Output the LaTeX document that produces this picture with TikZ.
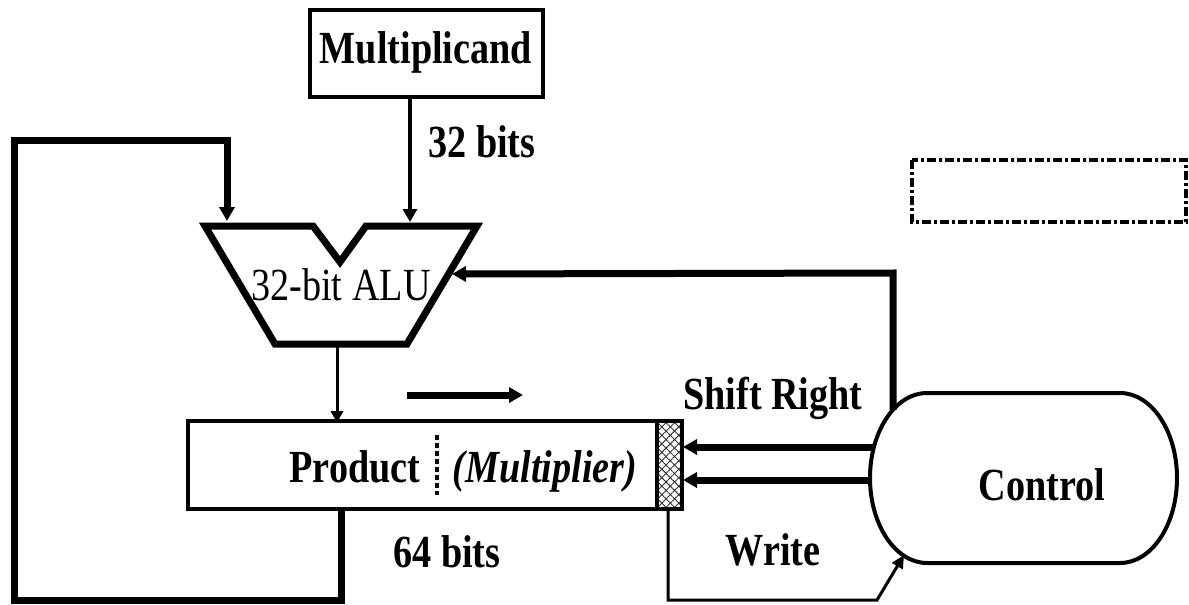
\documentclass[tikz,border=0pt]{standalone}
\usepackage{fontspec}
\setmainfont[FakeStretch=0.83]{Liberation Serif}
\usetikzlibrary{arrows.meta,patterns.meta}
\begin{document}
\begin{tikzpicture}[x=1pt,y=-1pt,
  lbl/.style={font=\fontsize{46}{50}\selectfont\bfseries, inner sep=0pt, anchor=base},
  lblr/.style={font=\fontsize{46}{50}\selectfont, inner sep=0pt, anchor=base},
  bigtip/.style={-{Triangle[length=14pt,width=15pt]}},
  midtip/.style={-{Triangle[length=13pt,width=14pt]}},
  thick7/.style={line width=7pt},
  thick4/.style={line width=4pt},
  thin3/.style={line width=3pt},
  ]
\useasboundingbox (0,0) rectangle (1189,605);

% Multiplicand box
\node[draw, thick4, minimum width=233pt, minimum height=87pt, inner sep=0pt] (mult) at (426.5,53.5) {};
\node[lbl] (multtxt) at (426,63) {Multiplicand};
\node[lbl] (bits32) at (482,157) {32 bits};

% ALU
\coordinate (aluTL) at (205,226);
\coordinate (aluN1) at (313,226);
\coordinate (aluV) at (340,262);
\coordinate (aluN2) at (366,226);
\coordinate (aluTR) at (477,226);
\coordinate (aluBR) at (407,344);
\coordinate (aluBL) at (275,344);
\draw[thick7, line join=miter] (aluTL) -- (aluN1) -- (aluV) -- (aluN2) -- (aluTR) -- (aluBR) -- (aluBL) -- cycle;
\node[lblr] (alutxt) at (341,300) {32-bit ALU};
\coordinate (aluInL) at (227,221);
\coordinate (aluInM) at (410,222);
\coordinate (aluInR) at (452,274);
\coordinate (aluOut) at (337,347);

% Product register
\node[thick4, minimum width=490pt, minimum height=84pt, inner sep=0pt] (prod) at (435,465) {};
\fill[pattern={Lines[angle=45,distance=6pt,line width=0.9pt]}, pattern color=black!80] (657,423) rectangle (680,507);
\fill[pattern={Lines[angle=-45,distance=6pt,line width=0.9pt]}, pattern color=black!80] (657,423) rectangle (680,507);
\draw[thick4] (prod.north west) rectangle (prod.south east);
\draw[thick4] (657,423) -- (657,507);
\draw[thick4, dash pattern=on 5pt off 3pt] (437,435) -- (437,495);
\node[lbl] (prodtxt) at (355,482) {Product};
\node[lbl, font=\fontsize{46}{50}\selectfont\bfseries\itshape] (mplier) at (545,482) {(Multiplier)};
\node[lbl] (bits64) at (447,567) {64 bits};
\coordinate (prodTop) at (337,423);
\coordinate (prodLoop) at (341,511);
\coordinate (prodW) at (668,507);
\coordinate (hatchA) at (683,447);
\coordinate (hatchB) at (683,480);

% Control
\node[minimum width=307pt, minimum height=170pt, inner sep=0pt] (ctrl) at (1023.5,478) {};
\draw[thick4] (927,393) -- (1120,393) arc[start angle=-90, end angle=90, x radius=57, y radius=85]
  -- (927,563) arc[start angle=90, end angle=270, x radius=57, y radius=85] -- cycle;
\node[lbl] (ctrltxt) at (1042,500) {Control};
\coordinate (ctrlA) at (874,447);
\coordinate (ctrlB) at (871,480);
\coordinate (ctrlUp) at (893,410);
\coordinate (ctrlW) at (904,555);

\node[lbl] (shr) at (773,409) {Shift Right};
\node[lbl] (wr) at (773,565) {Write};

% dashed box
\draw[thick4, dash pattern=on 9pt off 3pt on 3pt off 3pt] (912,160) rectangle (1186,222);

% connectors
\draw[thick4, midtip] (mult.south -| aluInM) -- (aluInM);
\draw[thick7, bigtip] (prodLoop) -- (341,600) -- (14,600) -- (14,140) -- (227,140) -- (aluInL);
\draw[thin3, -{Triangle[length=12pt,width=12pt]}] (aluOut) -- (prodTop);
\draw[thick7, bigtip] (ctrlUp) -- (893,273) -- (aluInR);
\draw[thick7, bigtip] (ctrlA) -- (hatchA);
\draw[thick7, bigtip] (ctrlB) -- (hatchB);
\draw[thin3, -{Triangle[length=13pt,width=12pt]}] (prodW) -- (668,600) -- (877,600) -- (ctrlW);
\coordinate (sa) at (407,395);
\coordinate (sb) at (523,395);
\draw[thick7, bigtip] (sa) -- (sb);
\end{tikzpicture}
\end{document}
